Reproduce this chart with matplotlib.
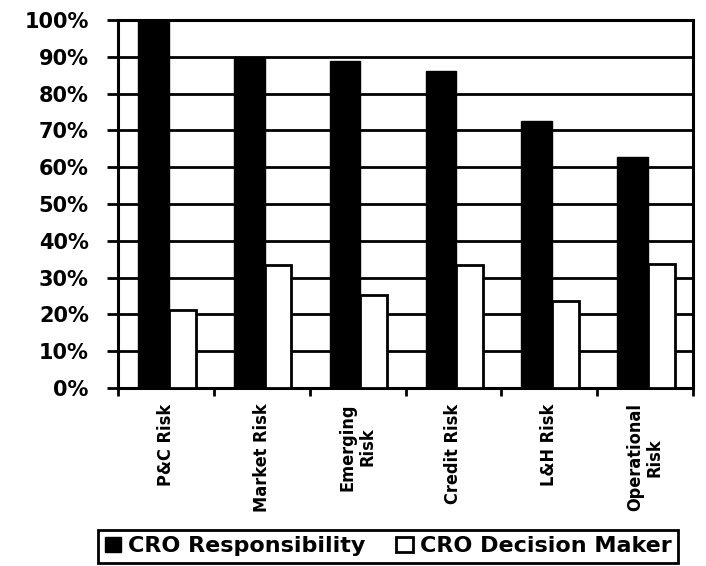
import matplotlib.pyplot as plt
from matplotlib.patches import Patch
from matplotlib import font_manager
import numpy as np

# Chart data
categories = ["P&C Risk", "Market Risk", "Emerging\nRisk", "Credit Risk",
              "L&H Risk", "Operational\nRisk"]
cro_responsibility = [100, 90, 88.9, 86.1, 72.5, 62.7]
cro_decision_maker = [21.2, 33.4, 25.3, 33.4, 23.6, 33.6]
y_ticks = [0, 10, 20, 30, 40, 50, 60, 70, 80, 90, 100]
y_labels = [f"{v}%" for v in y_ticks]
series_names = ["CRO Responsibility", "CRO Decision Maker"]

# condensed bold face for the category labels, if one is installed
cond = [f for f in font_manager.fontManager.ttflist
        if "DejaVuSansCondensed-Bold." in f.fname]
if cond:
    cat_font = font_manager.FontProperties(fname=cond[0].fname, size=13)
else:
    cat_font = font_manager.FontProperties(family="DejaVu Sans",
                                           weight="bold", size=11)

fig = plt.figure(figsize=(7.06, 5.66), dpi=100)
ax = fig.add_axes([118 / 706, 1 - 388 / 566, 575 / 706, 368 / 566])

x = np.arange(len(categories))

ax.bar(x - 0.29, cro_responsibility, width=0.32, align="edge",
       color="black", edgecolor="black", linewidth=1, zorder=3)
ax.bar(x + 0.03, cro_decision_maker, width=0.28, align="edge",
       color="white", edgecolor="black", linewidth=2, zorder=3)

ax.set_xlim(-0.5, len(categories) - 0.5)
ax.set_ylim(0, 100)

# y axis
ax.set_yticks(y_ticks)
ax.set_yticklabels(y_labels, fontfamily="DejaVu Sans", fontweight="bold",
                   fontsize=15)
ax.tick_params(axis="y", length=8, width=2, pad=13, direction="out")
ax.yaxis.grid(True, color="black", linewidth=2, zorder=0)
ax.set_axisbelow(True)

# x axis: tick marks between groups, labels at group centres
ax.set_xticks(np.arange(len(categories) + 1) - 0.5)
ax.set_xticklabels([])
ax.tick_params(axis="x", which="major", length=6, width=2, direction="out")
ax.set_xticks(x, minor=True)
ax.set_xticklabels(categories, minor=True, rotation=90,
                   fontproperties=cat_font, linespacing=1.1)
ax.tick_params(axis="x", which="minor", length=0, pad=11)

for s in ax.spines.values():
    s.set_linewidth(2.2)
    s.set_color("black")

handles = [Patch(facecolor="black", edgecolor="black"),
           Patch(facecolor="white", edgecolor="black", linewidth=2)]
leg = fig.legend(handles, series_names, loc="lower left",
                 bbox_to_anchor=(98 / 706, 3 / 566), ncol=2,
                 frameon=True, fancybox=False, framealpha=1,
                 borderaxespad=0,
                 handlelength=0.75, handleheight=0.7, handletextpad=0.3,
                 columnspacing=1.4, borderpad=0.3,
                 prop={"family": "DejaVu Sans", "weight": "bold", "size": 16})
leg.get_frame().set_edgecolor("black")
leg.get_frame().set_linewidth(2)

fig.savefig("out.png", dpi=100)
